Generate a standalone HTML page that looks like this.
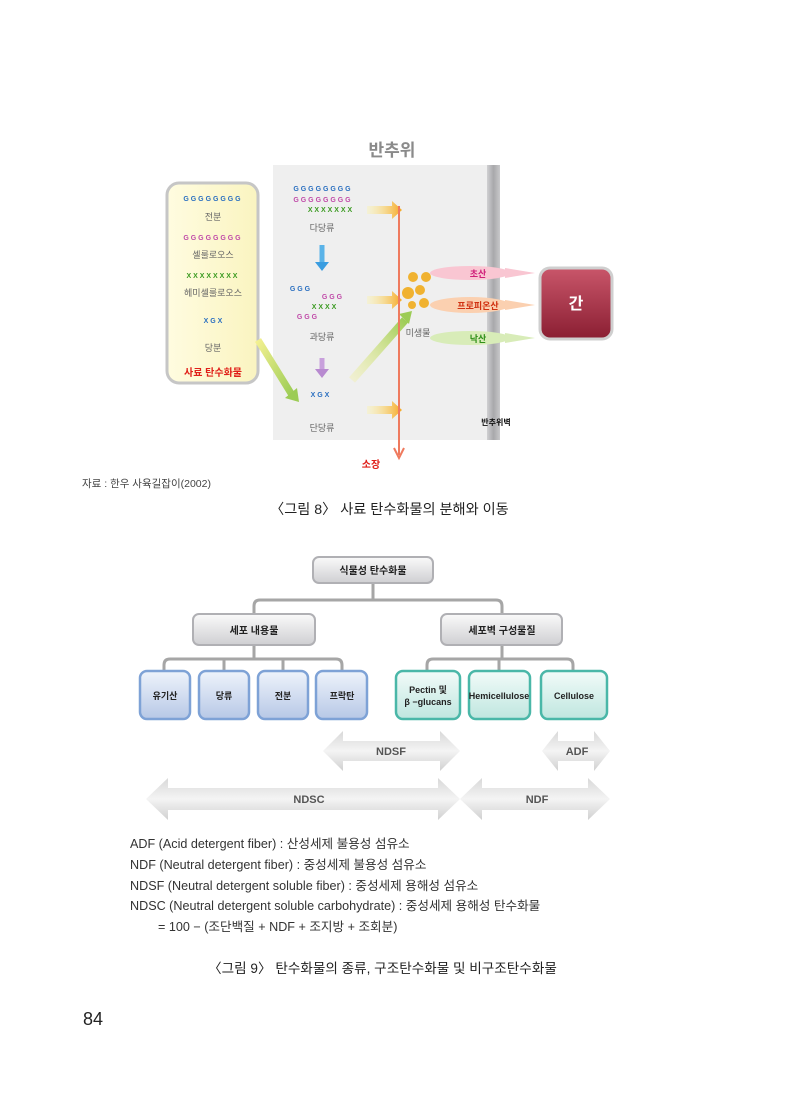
<!DOCTYPE html>
<html><head><meta charset="utf-8"><style>
html,body{margin:0;padding:0;background:#fff;}
body{width:800px;height:1107px;position:relative;overflow:hidden;font-family:"Liberation Sans","Noto Sans CJK KR",sans-serif;}
.t{position:absolute;white-space:nowrap;color:#222;}
svg{position:absolute;left:0;top:0;}
</style></head><body>
<svg width="800" height="1107" font-family="Liberation Sans, Noto Sans CJK KR, sans-serif">
<defs>
<linearGradient id="ylw" x1="0" x2="1"><stop offset="0" stop-color="#fffce0"/><stop offset="1" stop-color="#faf4c0"/></linearGradient>
<linearGradient id="liv" x1="0" y1="0" x2="0" y2="1"><stop offset="0" stop-color="#c9566a"/><stop offset="1" stop-color="#8a1e32"/></linearGradient>
<linearGradient id="gb" x1="0" y1="0" x2="0" y2="1"><stop offset="0" stop-color="#fafafa"/><stop offset="1" stop-color="#cfcfd2"/></linearGradient>
<linearGradient id="bb" x1="0" y1="0" x2="0" y2="1"><stop offset="0" stop-color="#eef3fb"/><stop offset="1" stop-color="#b7c8e6"/></linearGradient>
<linearGradient id="tb" x1="0" y1="0" x2="0" y2="1"><stop offset="0" stop-color="#f2fbf9"/><stop offset="1" stop-color="#bfe6df"/></linearGradient>
<linearGradient id="ga" x1="0" y1="0" x2="0" y2="1"><stop offset="0" stop-color="#d8d8d8"/><stop offset="0.5" stop-color="#f4f4f4"/><stop offset="1" stop-color="#d0d0d0"/></linearGradient>
<linearGradient id="ya" x1="0" x2="1"><stop offset="0" stop-color="#fff6a0" stop-opacity="0.3"/><stop offset="1" stop-color="#f5a623"/></linearGradient>
<linearGradient id="ga2" x1="0" y1="1" x2="1" y2="0"><stop offset="0" stop-color="#f2f090" stop-opacity="0.3"/><stop offset="1" stop-color="#9ccc55"/></linearGradient>
<linearGradient id="ga3" x1="0" y1="0" x2="1" y2="1"><stop offset="0" stop-color="#f2f090"/><stop offset="1" stop-color="#9ccc55"/></linearGradient>
<linearGradient id="wall" x1="0" x2="1"><stop offset="0" stop-color="#d0d0d2"/><stop offset="0.5" stop-color="#a8a8ab"/><stop offset="1" stop-color="#c8c8ca"/></linearGradient>
</defs>
<text x="392" y="156" font-size="17" font-weight="bold" fill="#8a8a8a" text-anchor="middle">반추위</text>
<rect x="273" y="165" width="227" height="275" fill="#efefef"/>
<rect x="487" y="165" width="13" height="275" fill="url(#wall)"/>
<rect x="167" y="183" width="91" height="200" rx="12" fill="url(#ylw)" stroke="#c6c6c6" stroke-width="3"/>
<g font-size="7" font-weight="bold" text-anchor="middle">
<text x="212" y="201" fill="#2a6fc0">G G G G G G G G</text>
<text x="212" y="240" fill="#c04aa8">G G G G G G G G</text>
<text x="212" y="278" fill="#3a9a20">X X X X X X X X</text>
<text x="322" y="191" fill="#2a6fc0">G G G G G G G G</text>
<text x="322" y="202" fill="#c04aa8">G G G G G G G G</text>
<text x="330" y="212" fill="#3a9a20">X X X X X X X</text>
<text x="300" y="291" fill="#2a6fc0">G G G</text>
<text x="332" y="299" fill="#c04aa8">G G G</text>
<text x="324" y="309" fill="#3a9a20">X X X X</text>
<text x="307" y="319" fill="#c04aa8">G G G</text>
<text x="213" y="323" fill="#2a6fc0">X G X</text>
<text x="320" y="397" fill="#2a6fc0">X G X</text>
</g>
<g font-size="9" fill="#666" text-anchor="middle">
<text x="213" y="220">전분</text><text x="213" y="258">셀룰로오스</text><text x="213" y="296">헤미셀룰로오스</text><text x="213" y="351">당분</text>
<text x="322" y="231">다당류</text><text x="322" y="340">과당류</text><text x="322" y="431">단당류</text><text x="418" y="336">미생물</text>
</g>
<text x="213" y="376" font-size="10" font-weight="bold" fill="#e0201a" text-anchor="middle">사료 탄수화물</text>
<text x="496" y="425" font-size="8" font-weight="bold" fill="#111" text-anchor="middle">반추위벽</text>
<path d="M322 245 v18" stroke="#5ab3e8" stroke-width="5"/><path d="M315 262 l7 9 l7 -9z" fill="#3a9de0"/>
<path d="M322 358 v12" stroke="#c8a0dc" stroke-width="5"/><path d="M315 369 l7 9 l7 -9z" fill="#b88ad0"/>
<path d="M258 340 L292 395" stroke="url(#ga3)" stroke-width="7"/><path d="M285 398 l14 4 l-2 -14z" fill="#9ccc55"/>
<path d="M352 380 L405 320" stroke="url(#ga2)" stroke-width="8"/><path d="M399 314 l13 -3 l-3 13z" fill="#9ccc55"/>
<g fill="url(#ya)"><path d="M367 206h25v-5l10 9l-10 9v-5h-25z"/><path d="M367 296h25v-5l10 9l-10 9v-5h-25z"/><path d="M367 406h25v-5l10 9l-10 9v-5h-25z"/></g>
<path d="M399 206 V455" stroke="#ef7a5e" stroke-width="2"/><path d="M394 448 l5 10 l5 -10" stroke="#ef7a5e" stroke-width="2" fill="none"/>
<text x="371" y="468" font-size="10" font-weight="bold" fill="#e0201a" text-anchor="middle">소장</text>
<g fill="#f0b230"><circle cx="413" cy="277" r="5"/><circle cx="426" cy="277" r="5"/><circle cx="408" cy="293" r="6"/><circle cx="420" cy="290" r="5"/><circle cx="424" cy="303" r="5"/><circle cx="412" cy="305" r="4"/></g>
<g><ellipse cx="470" cy="273" rx="40" ry="7" fill="#f9c6d2"/><ellipse cx="470" cy="305" rx="40" ry="8" fill="#fbd0b0"/><ellipse cx="470" cy="338" rx="40" ry="7" fill="#d8ecb8"/>
<path d="M505 268l30 5l-30 5z" fill="#f9c6d2"/><path d="M505 300l30 5l-30 5z" fill="#fbd0b0"/><path d="M505 333l30 5l-30 5z" fill="#d8ecb8"/></g>
<g font-size="9" font-weight="bold" text-anchor="middle"><text x="478" y="277" fill="#d0207a">초산</text><text x="478" y="309" fill="#d03010">프로피온산</text><text x="478" y="342" fill="#30901a">낙산</text></g>
<rect x="540" y="268" width="72" height="71" rx="10" fill="url(#liv)" stroke="#cfcfcf" stroke-width="3"/>
<text x="576" y="309" font-size="16" font-weight="bold" fill="#fff" text-anchor="middle">간</text>
<g stroke="#a6a6a6" stroke-width="3" fill="none">
<path d="M373 583 V600 M254 614 V606 Q254 600 260 600 H496 Q502 600 502 606 V614"/>
<path d="M254 645 V659 M164 670 V665 Q164 659 170 659 H336 Q342 659 342 665 V670 M224 659 V670 M283 659 V670"/>
<path d="M502 645 V659 M427 670 V665 Q427 659 433 659 H567 Q573 659 573 665 V670 M499 659 V670"/>
</g>
<rect x="313" y="557" width="120" height="26" rx="6" fill="url(#gb)" stroke="#b0b0b4" stroke-width="2"/>
<rect x="193" y="614" width="122" height="31" rx="6" fill="url(#gb)" stroke="#b0b0b4" stroke-width="2"/>
<rect x="441" y="614" width="121" height="31" rx="6" fill="url(#gb)" stroke="#b0b0b4" stroke-width="2"/>
<g fill="url(#bb)" stroke="#7ea2d6" stroke-width="2.5">
<rect x="140" y="671" width="50" height="48" rx="7"/><rect x="199" y="671" width="50" height="48" rx="7"/><rect x="258" y="671" width="50" height="48" rx="7"/><rect x="316" y="671" width="51" height="48" rx="7"/></g>
<g fill="url(#tb)" stroke="#4ab7a8" stroke-width="2.5">
<rect x="396" y="671" width="64" height="48" rx="7"/><rect x="469" y="671" width="61" height="48" rx="7"/><rect x="541" y="671" width="66" height="48" rx="7"/></g>
<g font-size="10" font-weight="bold" fill="#222" text-anchor="middle">
<text x="373" y="574">식물성 탄수화물</text><text x="254" y="634">세포 내용물</text><text x="502" y="634">세포벽 구성물질</text>
<text x="165" y="699" font-size="9">유기산</text><text x="224" y="699" font-size="9">당류</text><text x="283" y="699" font-size="9">전분</text><text x="342" y="699" font-size="9">프락탄</text>
<text x="428" y="693" font-size="9">Pectin 및</text><text x="428" y="705" font-size="9">β −glucans</text>
<text x="499" y="699" font-size="9">Hemicellulose</text><text x="574" y="699" font-size="9">Cellulose</text>
</g>
<g fill="url(#ga)">
<path d="M323 751 L343 731 V741 H440 V731 L460 751 L440 771 V761 H343 V771 Z"/>
<path d="M542 751 L558 731 V741 H594 V731 L610 751 L594 771 V761 H558 V771 Z"/>
<path d="M146 799 L168 778 V788 H438 V778 L460 799 L438 820 V810 H168 V820 Z"/>
<path d="M460 799 L482 778 V788 H588 V778 L610 799 L588 820 V810 H482 V820 Z"/>
</g>
<g font-size="11" font-weight="bold" fill="#555" text-anchor="middle">
<text x="391" y="755">NDSF</text><text x="577" y="755">ADF</text><text x="309" y="803">NDSC</text><text x="537" y="803">NDF</text></g>
</svg>
<div class="t" style="left:82px;top:476px;font-size:10.5px;color:#444">자료 : 한우 사육길잡이(2002)</div>
<div class="t" style="left:270px;top:499px;font-size:14.2px">〈그림 8〉 사료 탄수화물의 분해와 이동</div>
<div class="t" style="left:130px;top:834px;font-size:12.6px;line-height:20.8px;color:#333">ADF (Acid detergent fiber) : 산성세제 불용성 섬유소<br>NDF (Neutral detergent fiber) : 중성세제 불용성 섬유소<br>NDSF (Neutral detergent soluble fiber) : 중성세제 용해성 섬유소<br>NDSC (Neutral detergent soluble carbohydrate) : 중성세제 용해성 탄수화물<br>&nbsp;&nbsp;&nbsp;&nbsp;&nbsp;&nbsp;&nbsp;&nbsp;= 100 − (조단백질 + NDF + 조지방 + 조회분)</div>
<div class="t" style="left:208px;top:957px;font-size:13.6px">〈그림 9〉 탄수화물의 종류, 구조탄수화물 및 비구조탄수화물</div>
<div class="t" style="left:83px;top:1009px;font-size:18px">84</div>
</body></html>
